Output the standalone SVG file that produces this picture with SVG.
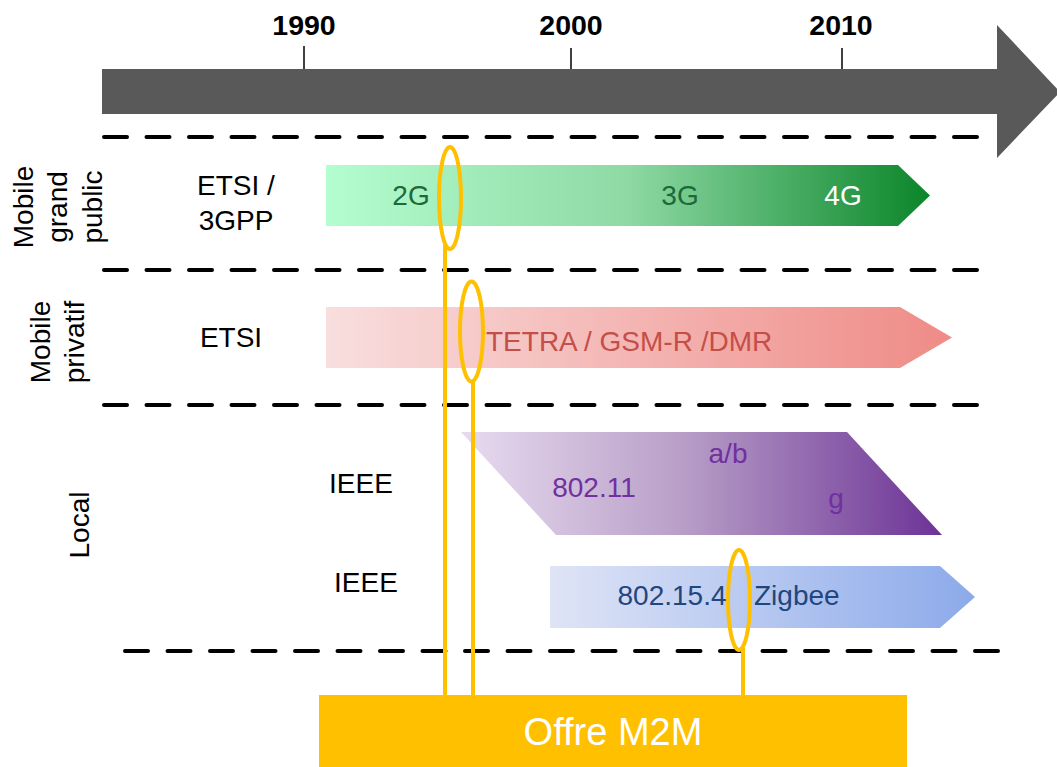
<svg xmlns="http://www.w3.org/2000/svg" width="1057" height="767" viewBox="0 0 1057 767">
<defs>
<linearGradient id="gGreen" x1="0" y1="0" x2="1" y2="0"><stop offset="0" stop-color="#b4fdcf"/><stop offset="0.5" stop-color="#8ed9a4"/><stop offset="1" stop-color="#0b852a"/></linearGradient>
<linearGradient id="gPink" x1="0" y1="0" x2="1" y2="0"><stop offset="0" stop-color="#f8dede"/><stop offset="1" stop-color="#ef8b86"/></linearGradient>
<linearGradient id="gPurple" x1="0" y1="0" x2="1" y2="0"><stop offset="0" stop-color="#e8dbf0"/><stop offset="0.45" stop-color="#b9a0c8"/><stop offset="1" stop-color="#6c3396"/></linearGradient>
<linearGradient id="gBlue" x1="0" y1="0" x2="1" y2="0"><stop offset="0" stop-color="#dfe4f6"/><stop offset="1" stop-color="#8caaea"/></linearGradient>
</defs>
<style>
text{font-family:"Liberation Sans",Arial,sans-serif;font-size:28px}
.yr{font-weight:bold;font-size:28.5px;text-anchor:middle;fill:#000}
.tick{stroke:#000;stroke-width:1.5}
.dash{stroke:#000;stroke-width:4;stroke-dasharray:23 19.5;stroke-linecap:round;fill:none}
.lab{fill:#000;text-anchor:middle}
.ring{fill:none;stroke:#ffc000;stroke-width:4}
.link{stroke:#ffc000;stroke-width:4;fill:none}
</style>
<rect width="1057" height="767" fill="#fff"/>
<g id="timeline">
<polygon points="102,69 997,69 997,25 1060,92 997,158 997,114 102,114" fill="#595959"/>
<line class="tick" x1="304" y1="46" x2="304" y2="69"/>
<line class="tick" x1="571" y1="48" x2="571" y2="69"/>
<line class="tick" x1="842" y1="48" x2="842" y2="69"/>
<text class="yr" x="304" y="35">1990</text>
<text class="yr" x="571" y="35">2000</text>
<text class="yr" x="841" y="35">2010</text>
</g>
<g id="separators">
<line class="dash" x1="104" y1="137" x2="980" y2="137"/>
<line class="dash" x1="104" y1="270" x2="980" y2="270"/>
<line class="dash" x1="104" y1="405" x2="977" y2="405"/>
<line class="dash" x1="125" y1="651" x2="1000" y2="651"/>
</g>
<g id="row-labels">
<text class="lab" transform="translate(33,207) rotate(-90)">Mobile</text>
<text class="lab" transform="translate(67,207) rotate(-90)">grand</text>
<text class="lab" transform="translate(102,207) rotate(-90)">public</text>
<text class="lab" transform="translate(50,342) rotate(-90)">Mobile</text>
<text class="lab" transform="translate(84,342) rotate(-90)">privatif</text>
<text class="lab" transform="translate(89,525) rotate(-90)">Local</text>
</g>
<g id="org-etsi3gpp"><text class="lab" x="236" y="195">ETSI /</text><text class="lab" x="236" y="230">3GPP</text></g>
<g id="org-etsi"><text class="lab" x="231" y="347">ETSI</text></g>
<g id="org-ieee1"><text class="lab" x="361" y="493">IEEE</text></g>
<g id="org-ieee2"><text class="lab" x="366" y="592">IEEE</text></g>
<g id="node-mobile">
<polygon points="326,165 898,165 930,195.5 898,226 326,226" fill="url(#gGreen)"/>
<text x="411" y="205" text-anchor="middle" fill="#1c6a3a">2G</text>
<text x="680" y="205" text-anchor="middle" fill="#1c6a3a">3G</text>
<text x="843" y="205" text-anchor="middle" fill="#fff">4G</text>
</g>
<g id="node-private">
<polygon points="326,307 900,307 952,337.5 900,368 326,368" fill="url(#gPink)"/>
<text x="486" y="351" fill="#c44e48">TETRA / GSM-R /DMR</text>
</g>
<g id="node-wifi">
<polygon points="461,432 847,432 942,535 556,535" fill="url(#gPurple)"/>
<text x="728" y="463" text-anchor="middle" fill="#7030a0">a/b</text>
<text x="594" y="497" text-anchor="middle" fill="#7030a0">802.11</text>
<text x="836" y="508" text-anchor="middle" fill="#7030a0">g</text>
</g>
<g id="node-zigbee">
<polygon points="550,566 940,566 975,597 940,628 550,628" fill="url(#gBlue)"/>
<text x="672" y="605" text-anchor="middle" fill="#1f477d">802.15.4</text>
<text x="754" y="605" fill="#1f477d">Zigbee</text>
</g>
<g id="connectors">
<line class="link" x1="445" y1="245" x2="445" y2="696"/>
<line class="link" x1="473" y1="380" x2="473" y2="696"/>
<line class="link" x1="743" y1="648" x2="743" y2="696"/>
<ellipse class="ring" cx="450" cy="198" rx="11" ry="51"/>
<ellipse class="ring" cx="471.5" cy="331.5" rx="11.5" ry="50"/>
<ellipse class="ring" cx="739" cy="600" rx="11" ry="50"/>
</g>
<g id="node-m2m">
<rect x="319" y="695" width="588" height="72" fill="#ffc000"/>
<text x="613" y="745" text-anchor="middle" fill="#fff" style="font-size:38px">Offre M2M</text>
</g>
</svg>
